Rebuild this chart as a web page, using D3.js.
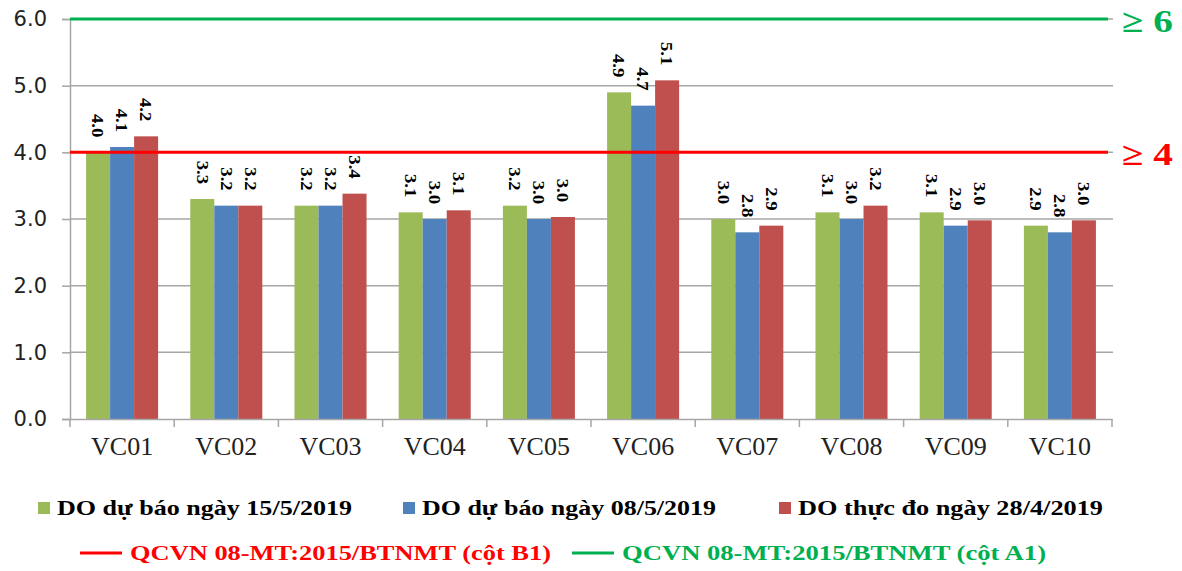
<!DOCTYPE html>
<html>
<head>
<meta charset="utf-8">
<script src="https://cdn.jsdelivr.net/npm/d3@7"></script>
<style>
  body { margin: 0; background: #fff; }
  svg { display: block; }
</style>
</head>
<body>
<div id="chart"></div>
<script>
// DO values by station
var stations = ["VC01", "VC02", "VC03", "VC04", "VC05", "VC06", "VC07", "VC08", "VC09", "VC10"];
var seriesNames = ["DO dự báo ngày 15/5/2019", "DO dự báo ngày 08/5/2019", "DO thực đo ngày 28/4/2019"];
var forecast155 = [4.0, 3.3, 3.2, 3.1, 3.2, 4.9, 3.0, 3.1, 3.1, 2.9];
var forecast085 = [4.08, 3.2, 3.2, 3.0, 3.0, 4.7, 2.8, 3.0, 2.9, 2.8];
var measured284 = [4.24, 3.2, 3.38, 3.13, 3.03, 5.08, 2.9, 3.2, 2.98, 2.98];
var yTicks = [0, 1, 2, 3, 4, 5, 6];
var limitNames = ["QCVN 08-MT:2015/BTNMT (cột B1)", "QCVN 08-MT:2015/BTNMT (cột A1)"];
var limitValues = [4, 6];

var barColors = ["#9BBB59", "#4F81BD", "#C0504D"];
var limitColors = ["#FF0000", "#00B050"];

var W = 1182, H = 571;
var root = d3.select("#chart").append("svg").attr("width", W).attr("height", H);
var svg = root.append("g");

var x0 = d3.scaleBand().domain(stations).range([70, 1112]).paddingInner(0).paddingOuter(0);
var x1 = d3.scaleBand().domain([0, 1, 2]).range([0, x0.bandwidth()]).paddingInner(0).paddingOuter(0.67);
var y = d3.scaleLinear().domain([0, 6]).range([419, 19]);

// gridlines
svg.append("g").selectAll("line").data(yTicks.slice(1)).enter().append("line")
    .attr("x1", 70).attr("x2", 1113)
    .attr("y1", function(d){ return y(d); }).attr("y2", function(d){ return y(d); })
    .attr("stroke", "#a6a6a6").attr("stroke-width", 1.5);

// y axis
var yAxis = d3.axisLeft(y).tickValues(yTicks).tickFormat(d3.format(".1f")).tickSize(8).tickPadding(15);
var gy = svg.append("g").attr("transform", "translate(70,0)").call(yAxis);
gy.select(".domain").attr("stroke", "#a6a6a6").attr("stroke-width", 1.5);
gy.selectAll(".tick line").attr("stroke", "#a6a6a6").attr("stroke-width", 1.5);
gy.selectAll("text").attr("font-family", "DejaVu Sans").attr("font-size", 21).attr("fill", "#222");

// bars
var allSeries = [forecast155, forecast085, measured284];
var rows = stations.map(function(s, i){
    return { name: s, vals: allSeries.map(function(arr){ return arr[i]; }) };
});

var groups = svg.append("g").selectAll("g").data(rows).enter().append("g")
    .attr("transform", function(d){ return "translate(" + x0(d.name) + ",0)"; });

groups.selectAll("rect").data(function(d){ return d.vals; }).enter().append("rect")
    .attr("x", function(d, j){ return x1(j); })
    .attr("y", function(d){ return y(d); })
    .attr("width", x1.bandwidth())
    .attr("height", function(d){ return y(0) - y(d); })
    .attr("fill", function(d, j){ return barColors[j]; });

// limit lines
svg.append("g").selectAll("line").data(limitValues).enter().append("line")
    .attr("x1", 70).attr("x2", 1108)
    .attr("y1", function(d){ return y(d); }).attr("y2", function(d){ return y(d); })
    .attr("stroke", function(d, i){ return limitColors[i]; }).attr("stroke-width", 3);

svg.append("g").selectAll("text").data(limitValues).enter().append("text")
    .attr("x", 1122)
    .attr("y", function(d){ return y(d) + 13; })
    .attr("font-family", "Liberation Serif").attr("font-weight", "bold").attr("font-size", 32)
    .attr("textLength", 51).attr("lengthAdjust", "spacingAndGlyphs")
    .attr("fill", function(d, i){ return limitColors[i]; })
    .text(function(d){ return "\u2265 " + d; });

// data labels (vertical)
groups.selectAll("text").data(function(d){ return d.vals; }).enter().append("text")
    .attr("transform", function(d, j){
        return "translate(" + (x1(j) + x1.bandwidth() / 2) + "," + (y(d) - 15) + ") rotate(90) scale(1.1,1)";
    })
    .attr("text-anchor", "end")
    .attr("dominant-baseline", "central")
    .attr("font-family", "Liberation Serif").attr("font-weight", "bold").attr("font-size", 17)
    .attr("fill", "#000")
    .text(function(d){ return d3.format(".1f")(d); });

// x axis
var xAxis = d3.axisBottom(x0).tickSize(0).tickPadding(18);
var gx = svg.append("g").attr("transform", "translate(0," + y(0) + ")").call(xAxis);
gx.select(".domain").attr("stroke", "#a6a6a6").attr("stroke-width", 1.5);
gx.selectAll("text").attr("font-family", "Liberation Serif").attr("font-size", 26).attr("fill", "#222");
gx.selectAll(".sep").data(d3.range(stations.length + 1)).enter().append("line")
    .attr("x1", function(i){ return 70 + i * x0.step(); })
    .attr("x2", function(i){ return 70 + i * x0.step(); })
    .attr("y1", 0).attr("y2", 8)
    .attr("stroke", "#a6a6a6").attr("stroke-width", 1.5);

// legend row 1
var legX = [38, 403, 779];
var legW = [295, 294, 305];
var leg1 = svg.append("g").selectAll("g").data(seriesNames).enter().append("g")
    .attr("transform", function(d, i){ return "translate(" + legX[i] + ",508)"; });
leg1.append("rect").attr("x", 0).attr("y", -6).attr("width", 12).attr("height", 12)
    .attr("fill", function(d, i){ return barColors[i]; });
leg1.append("text").attr("x", 19).attr("y", 7)
    .attr("font-family", "Liberation Serif").attr("font-weight", "bold").attr("font-size", 21)
    .attr("textLength", function(d, i){ return legW[i]; }).attr("lengthAdjust", "spacingAndGlyphs")
    .attr("fill", "#000")
    .text(function(d){ return d; });

// legend row 2
var lim2X = [80, 572];
var lim2W = [421, 424];
var leg2 = svg.append("g").selectAll("g").data(limitNames).enter().append("g")
    .attr("transform", function(d, i){ return "translate(" + lim2X[i] + ",553)"; });
leg2.append("line").attr("x1", 0).attr("x2", 42).attr("y1", 0).attr("y2", 0)
    .attr("stroke", function(d, i){ return limitColors[i]; }).attr("stroke-width", 3);
leg2.append("text").attr("x", 50).attr("y", 7)
    .attr("font-family", "Liberation Serif").attr("font-weight", "bold").attr("font-size", 21)
    .attr("textLength", function(d, i){ return lim2W[i]; }).attr("lengthAdjust", "spacingAndGlyphs")
    .attr("fill", function(d, i){ return limitColors[i]; })
    .text(function(d){ return d; });
</script>
</body>
</html>
